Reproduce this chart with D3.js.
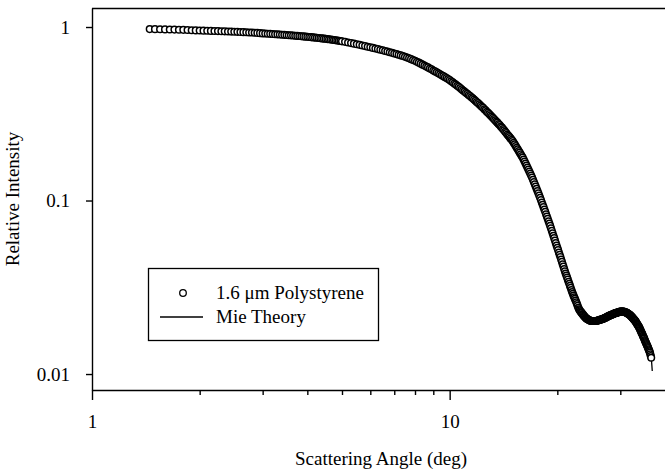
<!DOCTYPE html>
<html><head><meta charset="utf-8">
<script src="https://cdn.jsdelivr.net/npm/d3@7"></script>
<style>
body{margin:0;background:#fff}
svg{display:block}
text{font-family:"Liberation Serif","Times New Roman",serif;fill:#000}
</style>
</head><body>
<svg id="chart" width="665" height="473"></svg>
<script>
// ---- data ----
const angles = [
1.45,1.50,1.55,1.60,1.65,1.70,1.75,1.80,1.85,1.90,1.95,2.00,2.05,2.10,2.15,2.20,2.25,2.30,2.35,2.40,2.45,2.50,2.55,2.60,2.65,2.70,2.75,2.80,2.85,2.90,2.95,3.00,
3.05,3.10,3.15,3.20,3.25,3.30,3.35,3.40,3.45,3.50,3.55,3.60,3.65,3.70,3.75,3.80,3.85,3.90,3.95,4.00,
4.05,4.10,4.15,4.20,4.25,4.30,4.35,4.40,4.45,4.50,4.55,4.60,4.65,4.70,4.75,4.80,4.85,4.90,4.95,5.00,
5.1,5.2,5.3,5.4,5.5,5.6,5.7,5.8,5.9,6.0,6.1,6.2,6.3,6.4,6.5,6.6,6.7,6.8,6.9,7.0,
7.1,7.2,7.3,7.4,7.5,7.6,7.7,7.8,7.9,8.0,8.1,8.2,8.3,8.4,8.5,8.6,8.7,8.8,8.9,9.0,
9.1,9.2,9.3,9.4,9.5,9.6,9.7,9.8,9.9,10.0,10.1,10.2,10.3,10.4,10.5,10.6,10.7,10.8,10.9,11.0,
11.1,11.2,11.3,11.4,11.5,11.6,11.7,11.8,11.9,12.0,12.1,12.2,12.3,12.4,12.5,12.6,12.7,12.8,12.9,13.0,
13.1,13.2,13.3,13.4,13.5,13.6,13.7,13.8,13.9,14.0,14.1,14.2,14.3,14.4,14.5,14.6,14.7,14.8,14.9,15.0,
15.1,15.2,15.3,15.4,15.5,15.6,15.7,15.8,15.9,16.0,16.1,16.2,16.3,16.4,16.5,16.6,16.7,16.8,16.9,17.0,
17.1,17.2,17.3,17.4,17.5,17.6,17.7,17.8,17.9,18.0,18.1,18.2,18.3,18.4,18.5,18.6,18.7,18.8,18.9,19.0,
19.1,19.2,19.3,19.4,19.5,19.6,19.7,19.8,19.9,20.0,20.1,20.2,20.3,20.4,20.5,20.6,20.7,20.8,20.9,21.0,
21.1,21.2,21.3,21.4,21.5,21.6,21.7,21.8,21.9,22.0,22.1,22.2,22.3,22.4,22.5,22.6,22.7,22.8,22.9,23.0,
23.1,23.2,23.3,23.4,23.5,23.6,23.7,23.8,23.9,24.0,24.1,24.2,24.3,24.4,24.5,24.6,24.7,24.8,24.9,25.0,
25.1,25.2,25.3,25.4,25.5,25.6,25.7,25.8,25.9,26.0,26.1,26.2,26.3,26.4,26.5,26.6,26.7,26.8,26.9,27.0,
27.1,27.2,27.3,27.4,27.5,27.6,27.7,27.8,27.9,28.0,28.1,28.2,28.3,28.4,28.5,28.6,28.7,28.8,28.9,29.0,
29.1,29.2,29.3,29.4,29.5,29.6,29.7,29.8,29.9,30.0,30.1,30.2,30.3,30.4,30.5,30.6,30.7,30.8,30.9,31.0,
31.1,31.2,31.3,31.4,31.5,31.6,31.7,31.8,31.9,32.0,32.1,32.2,32.3,32.4,32.5,32.6,32.7,32.8,32.9,33.0,
33.1,33.2,33.3,33.4,33.5,33.6,33.7,33.8,33.9,34.0,34.1,34.2,34.3,34.4,34.5,34.6,34.7,34.8,34.9,35.0,
35.1,35.2,35.3,35.4,35.5,35.6,35.7,35.8,35.9,36.0,36.1,36.2,36.3,36.4,36.5,36.6];
const intensity = [
.973,.972,.971,.969,.968,.966,.965,.963,.961,.958,.956,.954,.953,.951,.950,.948,.947,.945,.944,.942,.941,.939,.938,.936,.934,.932,.930,.929,.927,.925,.922,.919,
.917,.915,.913,.911,.909,.907,.905,.903,.901,.899,.897,.895,.893,.891,.889,.887,.885,.883,.880,.878,
.876,.874,.871,.869,.867,.865,.862,.860,.857,.855,.852,.850,.847,.845,.842,.839,.836,.833,.830,.827,
.821,.814,.808,.802,.795,.789,.783,.776,.770,.764,.758,.752,.746,.740,.734,.728,.722,.716,.710,.704,
.698,.692,.686,.680,.674,.667,.660,.653,.646,.639,.631,.623,.615,.607,.600,.592,.585,.577,.570,.562,
.555,.548,.541,.534,.527,.521,.514,.508,.501,.495,.487,.480,.473,.466,.459,.452,.445,.438,.431,.425,
.418,.412,.406,.400,.394,.388,.382,.376,.370,.365,.359,.353,.347,.342,.336,.331,.325,.320,.315,.310,
.305,.300,.295,.290,.285,.281,.276,.272,.267,.263,.258,.254,.249,.245,.240,.236,.232,.228,.224,.220,
.215,.211,.206,.2016,.1973,.193,.1888,.1847,.1807,.1768,.1722,.1677,.1633,.1590,.1549,.1509,.1470,.1431,.1394,.1357,
.1317,.1278,.1241,.1204,.1169,.1134,.1101,.1068,.1037,.1006,.0975,.0945,.0916,.0888,.0861,.0834,.0809,.0784,.0760,.0737,
.0714,.0691,.0669,.0648,.0627,.0607,.0588,.0569,.0551,.0534,.0518,.0502,.0487,.0472,.0457,.0443,.0429,.0416,.0403,.0391,
.0380,.0370,.0360,.0350,.0340,.0331,.0322,.0314,.0305,.0297,.0290,.0283,.0277,.0271,.0265,.0259,.0253,.0247,.0241,.0236,
.0233,.0230,.0227,.0225,.0222,.0220,.0217,.0215,.0213,.0211,.0209,.0208,.0207,.0206,.0205,.0204,.0203,.0203,.0202,.0202,
.0202,.0202,.0202,.0202,.0202,.0202,.0202,.0203,.0203,.0204,.0204,.0205,.0205,.0206,.0206,.0207,.0207,.0208,.0208,.0209,
.0210,.0211,.0211,.0212,.0213,.0214,.0215,.0216,.0216,.0217,.0218,.0219,.0219,.0220,.0220,.0221,.0222,.0223,.0223,.0224,
.0224,.0225,.0225,.0226,.0226,.0227,.0227,.0228,.0228,.0229,.0229,.0229,.0229,.0229,.0229,.0229,.0228,.0228,.0227,.0227,
.0226,.0226,.0225,.0224,.0223,.0222,.0221,.0220,.0219,.0218,.0216,.0215,.0213,.0212,.0210,.0209,.0207,.0206,.0204,.0203,
.0201,.0199,.0197,.0195,.0193,.0191,.0189,.0187,.0185,.0183,.0180,.0178,.0175,.0173,.0171,.0169,.0166,.0164,.0162,.0160,
.0157,.0155,.0153,.0151,.0149,.0147,.0145,.0143,.0141,.0139,.0137,.0135,.0133,.0130,.0127,.0124];
const theoryAngles = [1.45,2,3,4,5,6,7,8,9,10,11,12,13,14,15,16,17,18,19,20,21,22,23,24,25,26,27,28,29,30,31,32,33,34,35,36,36.6,36.85];
const theoryIntensity = [.973,.954,.919,.878,.827,.764,.704,.639,.562,.495,.425,.365,.310,.263,.220,.1768,.1357,.1006,.0737,.0534,.0391,.0297,.0236,.0211,.0202,.0204,.0209,.0217,.0224,.0229,.0227,.0218,.0203,.0183,.0160,.0139,.0124,.0104];
const xMajorTicks = [1, 10];
const xMajorLabels = ["1", "10"];
const xMinorTicks = [2,3,4,5,6,7,8,9,20,30];
const yMajorTicks = [1, 0.1, 0.01];
const yMajorLabels = ["1", "0.1", "0.01"];
const legendLabels = ["1.6 \u03bcm Polystyrene", "Mie Theory"];
const xTitle = "Scattering Angle (deg)";
const yTitle = "Relative Intensity";

// ---- layout ----
const svg = d3.select("#chart");
const L = 92, R = 665, T = 8, B = 390;
const x = d3.scaleLog().domain([1, 40]).range([L, R]);
const y = d3.scaleLog().domain([0.00809, 1.287]).range([B, T]);

const axisStyle = g => {
  g.selectAll("path,line").attr("stroke", "#000").attr("stroke-width", 1.4);
  g.selectAll("text").attr("fill", "#000").style("font-family", '"Liberation Serif","Times New Roman",serif');
};

// top border
svg.append("line").attr("x1", L).attr("x2", R).attr("y1", T + 0.5).attr("y2", T + 0.5)
  .attr("stroke", "#000").attr("stroke-width", 1.4);

// x axis
const xMinor = svg.append("g").attr("transform", `translate(0,${B})`)
  .call(d3.axisBottom(x).tickValues(xMinorTicks).tickSize(5).tickSizeOuter(0).tickFormat(""));
xMinor.select(".domain").remove();
axisStyle(xMinor);
const xMajor = svg.append("g").attr("transform", `translate(0,${B})`)
  .call(d3.axisBottom(x).tickValues(xMajorTicks).tickSize(10).tickSizeOuter(0).tickPadding(15)
    .tickFormat((d, i) => xMajorLabels[i]));
axisStyle(xMajor);
xMajor.selectAll("text").style("font-size", "19px");

// y axis
const yAx = svg.append("g").attr("transform", `translate(${L},0)`)
  .call(d3.axisLeft(y).tickValues(yMajorTicks).tickSize(6).tickSizeOuter(0).tickPadding(16)
    .tickFormat((d, i) => yMajorLabels[i]));
axisStyle(yAx);
yAx.selectAll("text").style("font-size", "19px");

// titles
svg.append("text").attr("x", 381).attr("y", 465).attr("text-anchor", "middle")
  .style("font-size", "19px").text(xTitle);
svg.append("text").attr("transform", "translate(19,199) rotate(-90)").attr("text-anchor", "middle")
  .style("font-size", "19px").text(yTitle);

// theory line
const line = d3.line().x(d => x(d[0])).y(d => y(d[1])).curve(d3.curveMonotoneX);
svg.append("path").datum(theoryAngles.map((a, i) => [a, theoryIntensity[i]]))
  .attr("d", line).attr("fill", "none").attr("stroke", "#000").attr("stroke-width", 1.3);

// data markers
svg.append("g").selectAll("circle").data(angles.map((a, i) => [a, intensity[i]])).join("circle")
  .attr("cx", d => x(d[0])).attr("cy", d => y(d[1])).attr("r", 3.3)
  .attr("fill", "#fff").attr("stroke", "#000").attr("stroke-width", 1.5);

// legend
const lg = svg.append("g");
lg.append("rect").attr("x", 148.5).attr("y", 268.5).attr("width", 230).attr("height", 72)
  .attr("fill", "#fff").attr("stroke", "#000").attr("stroke-width", 1.3);
lg.append("circle").attr("cx", 183).attr("cy", 293).attr("r", 3.3)
  .attr("fill", "#fff").attr("stroke", "#000").attr("stroke-width", 1.3);
lg.append("line").attr("x1", 160).attr("x2", 203).attr("y1", 317).attr("y2", 317)
  .attr("stroke", "#000").attr("stroke-width", 1.3);
lg.append("text").attr("x", 216).attr("y", 299).style("font-size", "19px").text(legendLabels[0]);
lg.append("text").attr("x", 216).attr("y", 323).style("font-size", "19px").text(legendLabels[1]);
</script>
</body></html>
